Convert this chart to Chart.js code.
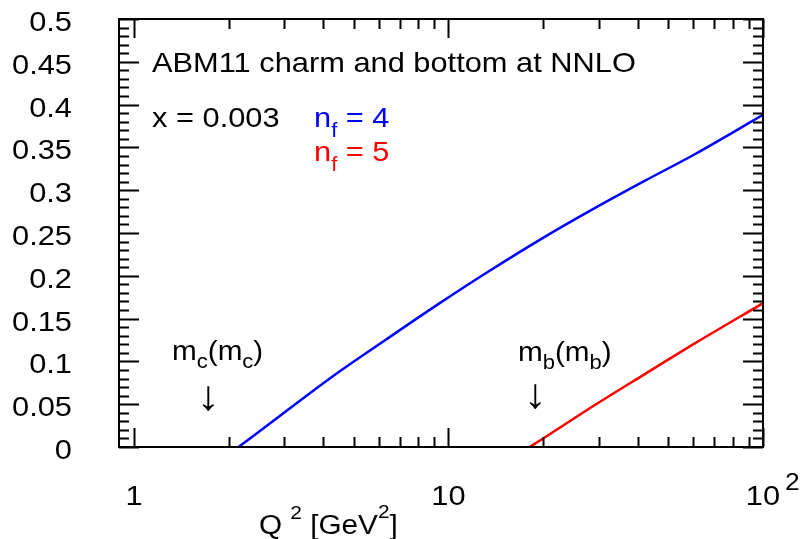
<!DOCTYPE html>
<html>
<head>
<meta charset="utf-8">
<script src="https://cdn.jsdelivr.net/npm/chart.js@4.4.1/dist/chart.umd.min.js"></script>
<style>
  html, body { margin: 0; padding: 0; background: #fff; }
  #plot { display: block; }
</style>
</head>
<body>
<canvas id="plot" width="800" height="539"></canvas>
<script>
// F2 charm / bottom vs Q^2 at x = 0.003 (ABM11, NNLO), ROOT-like frame

const q2Nf4 = [2.15, 2.95, 4.3, 6.3, 9.2, 13.4, 19.5, 28.5, 41.6, 60.7, 100];
const f2Nf4 = [0, 0.038, 0.083, 0.125, 0.166, 0.205, 0.242, 0.277, 0.310, 0.342, 0.388];

const q2Nf5 = [18.1, 20.0, 29.2, 41.6, 60.7, 100];
const f2Nf5 = [0, 0.010, 0.049, 0.084, 0.121, 0.168];

const yTicks = [0, 0.05, 0.1, 0.15, 0.2, 0.25, 0.3, 0.35, 0.4, 0.45, 0.5];
const yTickLabels = ["0", "0.05", "0.1", "0.15", "0.2", "0.25", "0.3", "0.35", "0.4", "0.45", "0.5"];
const yMinorStep = 0.01;

const xTicks = [1, 10, 100];
const xTickLabels = ["1", "10", "10"];
const xTickExps = ["", "", "2"];
const xMinorMult = [2, 3, 4, 5, 6, 7, 8, 9];

const FONT = '"Liberation Sans", Arial, sans-serif';
const HSCALE = 1.1; // reference text is a bit wider than plain Arial

// draws text pieces one after another: [text, size, dy, color]
function drawRich(ctx, x, y, parts, align) {
  let total = 0;
  parts.forEach(p => {
    ctx.font = p[1] + "px " + FONT;
    total += ctx.measureText(p[0]).width * HSCALE;
  });
  let cx = x;
  if (align === "right") cx = x - total;
  if (align === "center") cx = x - total / 2;
  parts.forEach(p => {
    ctx.font = p[1] + "px " + FONT;
    const w = ctx.measureText(p[0]).width * HSCALE;
    ctx.save();
    ctx.fillStyle = p[3] || "#000";
    ctx.translate(cx, y + (p[2] || 0));
    ctx.scale(HSCALE, 1);
    ctx.fillText(p[0], 0, 0);
    ctx.restore();
    cx += w;
  });
}

const rootFrame = {
  id: "rootFrame",
  afterDatasetsDraw(chart) {
    const ctx = chart.ctx;
    const a = chart.chartArea;
    const xs = chart.scales.x;
    const ys = chart.scales.y;

    ctx.save();
    ctx.strokeStyle = "#000";
    ctx.lineWidth = 2;
    ctx.strokeRect(a.left, a.top, a.right - a.left, a.bottom - a.top);

    ctx.beginPath();
    // y minor + major ticks, both sides
    for (let v = 0; v <= 0.5 + 1e-9; v += yMinorStep) {
      const py = Math.round(ys.getPixelForValue(v)) + 0.5;
      const major = yTicks.some(t => Math.abs(t - v) < 1e-6);
      const len = major ? 20 : 10;
      ctx.moveTo(a.left, py); ctx.lineTo(a.left + len, py);
      ctx.moveTo(a.right, py); ctx.lineTo(a.right - len, py);
    }
    // x ticks, bottom and top
    xTicks.forEach(v => {
      const px = Math.round(xs.getPixelForValue(v)) + 0.5;
      ctx.moveTo(px, a.bottom); ctx.lineTo(px, a.bottom - 19);
      ctx.moveTo(px, a.top); ctx.lineTo(px, a.top + 19);
    });
    [1, 10].forEach(dec => {
      xMinorMult.forEach(m => {
        const px = Math.round(xs.getPixelForValue(m * dec)) + 0.5;
        ctx.moveTo(px, a.bottom); ctx.lineTo(px, a.bottom - 10);
        ctx.moveTo(px, a.top); ctx.lineTo(px, a.top + 10);
      });
    });
    ctx.stroke();

    ctx.textAlign = "left";
    ctx.textBaseline = "alphabetic";

    // tick labels
    yTicks.forEach((v, i) => {
      drawRich(ctx, 72, ys.getPixelForValue(v) + 12, [[yTickLabels[i], 28]], "right");
    });
    xTicks.forEach((v, i) => {
      const px = xs.getPixelForValue(v);
      drawRich(ctx, px, 505, [[xTickLabels[i], 28]], "center");
      if (xTickExps[i]) drawRich(ctx, px + 22, 490, [[xTickExps[i], 24]], "left");
    });

    // axis title
    drawRich(ctx, 259, 534, [["Q", 27], [" ", 27], ["2", 19, -15], [" [GeV", 27], ["2", 19, -16], ["]", 27]], "left");

    // annotations
    drawRich(ctx, 152, 72, [["ABM11 charm and bottom at NNLO", 28]], "left");
    drawRich(ctx, 152, 127, [["x = 0.003", 28]], "left");
    drawRich(ctx, 314, 127, [["n", 28, 0, "#0000ff"], ["f", 20, 10, "#0000ff"], [" = 4", 28, 0, "#0000ff"]], "left");
    drawRich(ctx, 314, 161, [["n", 28, 0, "#ff0000"], ["f", 20, 10, "#ff0000"], [" = 5", 28, 0, "#ff0000"]], "left");

    drawRich(ctx, 172, 360, [["m", 27], ["c", 20, 8], ["(m", 27], ["c", 20, 8], [")", 27]], "left");
    drawRich(ctx, 518, 361, [["m", 27], ["b", 20, 8], ["(m", 27], ["b", 20, 8], [")", 27]], "left");
    drawRich(ctx, 208, 410, [["\u2193", 42]], "center");
    drawRich(ctx, 535, 408, [["\u2193", 42]], "center");

    ctx.restore();
  }
};

const ctx = document.getElementById("plot").getContext("2d");
new Chart(ctx, {
  type: "line",
  data: {
    datasets: [
      {
        label: "nf = 4",
        data: q2Nf4.map((q, i) => ({ x: q, y: f2Nf4[i] })),
        borderColor: "#0000ff",
        borderWidth: 2.5,
        pointRadius: 0,
        cubicInterpolationMode: "monotone"
      },
      {
        label: "nf = 5",
        data: q2Nf5.map((q, i) => ({ x: q, y: f2Nf5[i] })),
        borderColor: "#ff0000",
        borderWidth: 2.5,
        pointRadius: 0,
        cubicInterpolationMode: "monotone"
      }
    ]
  },
  options: {
    responsive: false,
    animation: false,
    layout: { padding: { left: 119, right: 37, top: 19, bottom: 92 } },
    plugins: {
      legend: { display: false },
      tooltip: { enabled: false }
    },
    scales: {
      x: { type: "logarithmic", min: 0.896, max: 100, display: false },
      y: { type: "linear", min: 0, max: 0.5, display: false }
    }
  },
  plugins: [rootFrame]
});
</script>
</body>
</html>
